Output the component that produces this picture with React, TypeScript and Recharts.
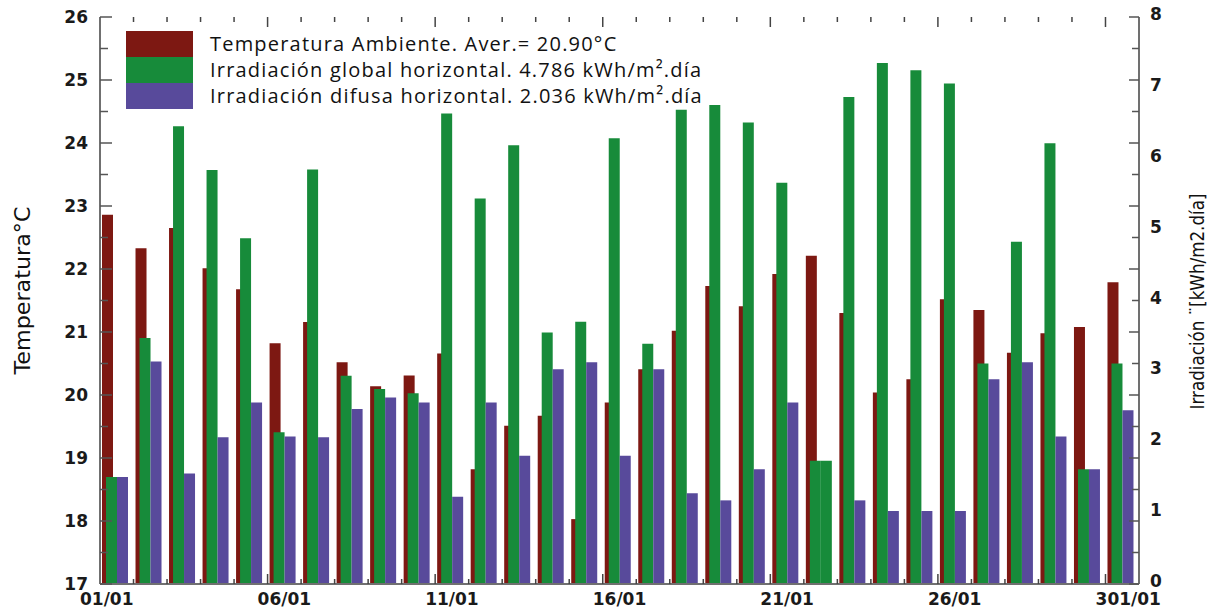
import { BarChart, Bar, XAxis, YAxis, Cell } from "recharts";

const days = [
  "01/01", "02/01", "03/01", "04/01", "05/01", "06/01", "07/01", "08/01",
  "09/01", "10/01", "11/01", "12/01", "13/01", "14/01", "15/01", "16/01",
  "17/01", "18/01", "19/01", "20/01", "21/01", "22/01", "23/01", "24/01",
  "25/01", "26/01", "27/01", "28/01", "29/01", "30/01", "31/01"
];

// labels printed every 5 days (the last one is written this way in the source)
const dayTickLabels = ["01/01", "06/01", "11/01", "16/01", "21/01", "26/01", "301/01"];

const tempAmbient = [
  22.86, 22.33, 22.65, 22.01, 21.68, 20.82, 21.16, 20.52, 20.14, 20.31,
  20.66, 18.82, 19.51, 19.67, 18.03, 19.88, 20.41, 21.02, 21.73, 21.41,
  21.92, 22.21, 21.3, 20.04, 20.25, 21.52, 21.35, 20.67, 20.98, 21.08, 21.79
];

const globalIrr = [
  1.51, 3.47, 6.46, 5.84, 4.88, 2.14, 5.85, 2.94, 2.75, 2.69,
  6.64, 5.44, 6.19, 3.55, 3.7, 6.29, 3.39, 6.69, 6.76, 6.51,
  5.66, 1.74, 6.87, 7.35, 7.25, 7.06, 3.11, 4.83, 6.22, 1.62, 3.11
];

const diffuseIrr = [
  1.51, 3.14, 1.56, 2.07, 2.56, 2.08, 2.07, 2.47, 2.63, 2.56,
  1.23, 2.56, 1.81, 3.03, 3.13, 1.81, 3.03, 1.28, 1.18, 1.62,
  2.56, 1.74, 1.18, 1.03, 1.03, 1.03, 2.89, 3.13, 2.08, 1.62, 2.45
];

const tempTicks = [17, 17.5, 18, 18.5, 19, 19.5, 20, 20.5, 21, 21.5, 22, 22.5, 23, 23.5, 24, 24.5, 25, 25.5, 26];
const irrTicks = [0, 1, 2, 3, 4, 5, 6, 7, 8];

const seriesNames = [
  "Temperatura Ambiente. Aver.= 20.90°C",
  "Irradiación global horizontal. 4.786 kWh/m².día",
  "Irradiación difusa horizontal. 2.036 kWh/m².día"
];

const RED = "#7d1812";
const GREEN = "#178b3a";
const PURPLE = "#584a9b";
const seriesColors = [RED, GREEN, PURPLE];

const data = days.map((day, i) => ({
  day,
  temp: tempAmbient[i],
  global: globalIrr[i],
  diffuse: diffuseIrr[i]
}));

// on 22/01 the diffuse bar comes out in the global colour in the original
const DIFFUSE_AS_GLOBAL = 21;

const W = 1222;
const H = 611;
const PLOT_LEFT = 100;
const PLOT_RIGHT = 1139;
const PLOT_TOP = 17;
const PLOT_BOTTOM = 584;
const BAND = (PLOT_RIGHT - PLOT_LEFT) / days.length;

const FRAME = "#707070";
const TICK_FONT = "'DejaVu Sans', sans-serif";

function DayTick(props: any) {
  const { x, index } = props;
  const bx = x - BAND / 2;
  const major = index % 5 === 0;
  const len = major ? 10 : 5;
  // end labels sit a little outward in the original
  const shift = index === 0 ? -10 : index === days.length - 1 ? 6 : 0;
  return (
    <g>
      {index > 0 && (
        <>
          <line x1={bx} x2={bx} y1={PLOT_BOTTOM} y2={PLOT_BOTTOM - len} stroke="#444" strokeWidth={1.5} />
          <line x1={bx} x2={bx} y1={PLOT_TOP} y2={PLOT_TOP + len} stroke="#444" strokeWidth={1.5} />
        </>
      )}
      {major && (
        <text
          x={x + shift}
          y={PLOT_BOTTOM + 15}
          textAnchor="middle"
          dominantBaseline="central"
          fontFamily={TICK_FONT}
          fontWeight="bold"
          fontSize={17}
          fill="#1a1a1a"
        >
          {dayTickLabels[index / 5]}
        </text>
      )}
    </g>
  );
}

function TempTick(props: any) {
  const { y, payload } = props;
  const v = payload.value;
  const major = Number.isInteger(v);
  return (
    <g>
      <line x1={PLOT_LEFT} x2={PLOT_LEFT + (major ? 12 : 8)} y1={y} y2={y} stroke="#555" strokeWidth={1.5} />
      <line x1={PLOT_RIGHT} x2={PLOT_RIGHT - (major ? 10 : 7)} y1={y} y2={y} stroke="#555" strokeWidth={1.5} />
      {major && (
        <text
          x={PLOT_LEFT - 12}
          y={y}
          textAnchor="end"
          dominantBaseline="central"
          fontFamily={TICK_FONT}
          fontWeight="bold"
          fontSize={17}
          fill="#1a1a1a"
        >
          {v}
        </text>
      )}
    </g>
  );
}

function IrrTick(props: any) {
  const { y, payload } = props;
  return (
    <text
      x={PLOT_RIGHT + 11}
      y={y - 3}
      textAnchor="start"
      dominantBaseline="central"
      fontFamily={TICK_FONT}
      fontWeight="bold"
      fontSize={17}
      fill="#1a1a1a"
    >
      {payload.value}
    </text>
  );
}

function AxisTitle(props: any) {
  const { viewBox, title, dx, dy = 0, size, length } = props;
  const cx = viewBox.x + dx;
  const cy = viewBox.y + viewBox.height / 2 + dy;
  return (
    <text
      x={cx}
      y={cy}
      transform={`rotate(-90 ${cx} ${cy})`}
      textAnchor="middle"
      dominantBaseline="central"
      fontFamily="'DejaVu Sans', sans-serif"
      fontSize={size}
      textLength={length}
      lengthAdjust="spacingAndGlyphs"
      fill="#111"
    >
      {title}
    </text>
  );
}

function ChartLegend() {
  return (
    <div style={{ position: "absolute", left: 126, top: 31, display: "flex" }}>
      <div>
        {seriesColors.map((c) => (
          <div key={c} style={{ width: 67, height: 26, background: c }} />
        ))}
      </div>
      <div style={{ marginLeft: 17 }}>
        {seriesNames.map((n) => (
          <div
            key={n}
            style={{
              height: 26,
              lineHeight: "26px",
              fontFamily: "'Open Sans', sans-serif",
              fontSize: 20,
              letterSpacing: 1.2,
              color: "#111",
              whiteSpace: "nowrap"
            }}
          >
            {n}
          </div>
        ))}
      </div>
    </div>
  );
}

export default function App() {
  return (
    <div style={{ position: "absolute", left: 0, top: 0, width: W, height: H, background: "#fff" }}>
      <BarChart
        width={W}
        height={H}
        data={data}
        barGap={0}
        margin={{ top: PLOT_TOP, right: 0, bottom: 0, left: 0 }}
      >
        <XAxis
          xAxisId="t"
          dataKey="day"
          orientation="top"
          height={0}
          tick={false}
          tickLine={false}
          axisLine={{ stroke: FRAME, strokeWidth: 2 }}
        />
        <XAxis
          xAxisId="irr"
          dataKey="day"
          height={H - PLOT_BOTTOM}
          interval={0}
          tickLine={false}
          tickSize={0}
          axisLine={{ stroke: FRAME, strokeWidth: 2 }}
          tick={<DayTick />}
        />
        <YAxis
          yAxisId="temp"
          domain={[17, 26]}
          ticks={tempTicks}
          interval={0}
          width={PLOT_LEFT}
          tickLine={false}
          axisLine={{ stroke: FRAME, strokeWidth: 2 }}
          tick={<TempTick />}
          label={<AxisTitle title="Temperatura°C" dx={23} dy={-10} size={21} length={168} />}
        />
        <YAxis
          yAxisId="irr"
          orientation="right"
          domain={[0, 8]}
          ticks={irrTicks}
          interval={0}
          width={W - PLOT_RIGHT}
          tickLine={false}
          axisLine={{ stroke: FRAME, strokeWidth: 2 }}
          tick={<IrrTick />}
          label={<AxisTitle title="Irradiación ¨[kWh/m2.día]" dx={58} dy={1} size={19} length={216} />}
        />
        <Bar xAxisId="t" yAxisId="temp" dataKey="temp" fill={RED} barSize={11} isAnimationActive={false} />
        <Bar xAxisId="t" yAxisId="temp" dataKey="gap" fill="none" barSize={19.4} isAnimationActive={false} />
        <Bar xAxisId="irr" yAxisId="irr" dataKey="global" fill={GREEN} barSize={11} isAnimationActive={false} />
        <Bar xAxisId="irr" yAxisId="irr" dataKey="diffuse" fill={PURPLE} barSize={11} isAnimationActive={false}>
          {data.map((d, i) => (
            <Cell key={d.day} fill={i === DIFFUSE_AS_GLOBAL ? GREEN : PURPLE} />
          ))}
        </Bar>
      </BarChart>
      <ChartLegend />
    </div>
  );
}
